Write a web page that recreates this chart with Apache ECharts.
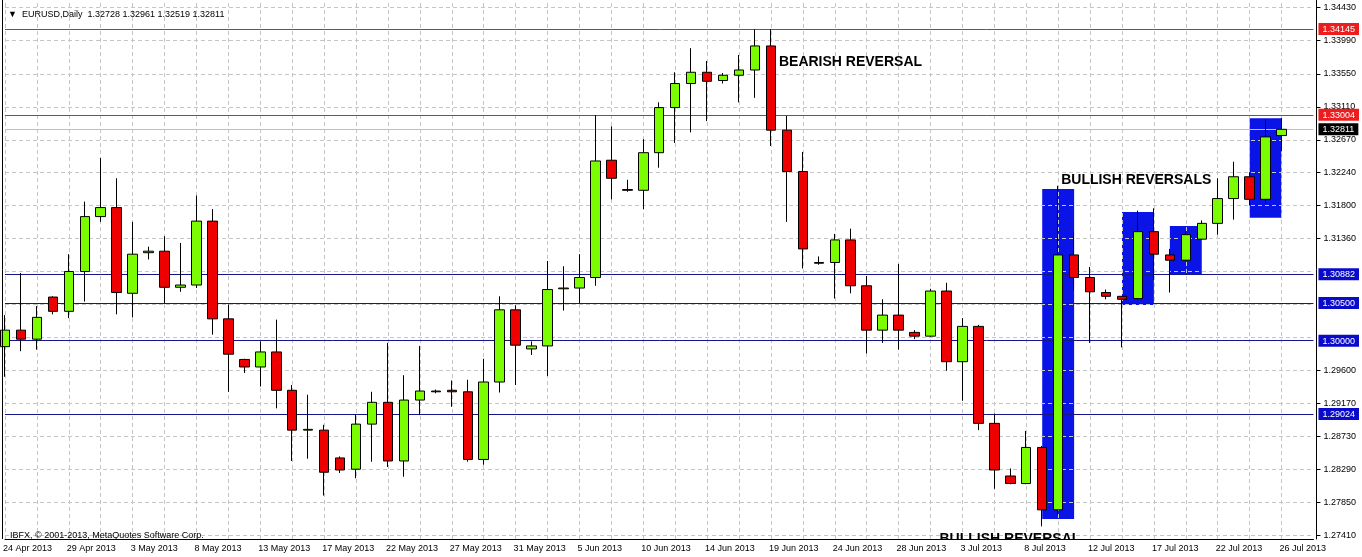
<!DOCTYPE html>
<html><head><meta charset="utf-8">
<script src="https://cdn.jsdelivr.net/npm/echarts@6/dist/echarts.min.js"></script>
<style>html,body{margin:0;padding:0;background:#fff}#c{width:1362px;height:557px}</style>
</head><body><div id="c"></div>
<script>
const dates = ['24 Apr 2013','25 Apr 2013','26 Apr 2013','28 Apr 2013','29 Apr 2013','30 Apr 2013','1 May 2013','2 May 2013','3 May 2013','5 May 2013','6 May 2013','7 May 2013','8 May 2013','9 May 2013','10 May 2013','12 May 2013','13 May 2013','14 May 2013','15 May 2013','16 May 2013','17 May 2013','19 May 2013','20 May 2013','21 May 2013','22 May 2013','23 May 2013','24 May 2013','26 May 2013','27 May 2013','28 May 2013','29 May 2013','30 May 2013','31 May 2013','2 Jun 2013','3 Jun 2013','4 Jun 2013','5 Jun 2013','6 Jun 2013','7 Jun 2013','9 Jun 2013','10 Jun 2013','11 Jun 2013','12 Jun 2013','13 Jun 2013','14 Jun 2013','16 Jun 2013','17 Jun 2013','18 Jun 2013','19 Jun 2013','20 Jun 2013','21 Jun 2013','23 Jun 2013','24 Jun 2013','25 Jun 2013','26 Jun 2013','27 Jun 2013','28 Jun 2013','30 Jun 2013','1 Jul 2013','2 Jul 2013','3 Jul 2013','4 Jul 2013','5 Jul 2013','7 Jul 2013','8 Jul 2013','9 Jul 2013','10 Jul 2013','11 Jul 2013','12 Jul 2013','14 Jul 2013','15 Jul 2013','16 Jul 2013','17 Jul 2013','18 Jul 2013','19 Jul 2013','21 Jul 2013','22 Jul 2013','23 Jul 2013','24 Jul 2013','25 Jul 2013','26 Jul 2013'];

const opens  = [1.2992,1.3014,1.3002,1.3058,1.3039,1.3092,1.3165,1.3177,1.3063,1.3117,1.3119,1.3071,1.3074,1.3159,1.3029,1.2975,1.2965,1.2985,1.2934,1.2881,1.2881,1.2844,1.2829,1.2889,1.2918,1.2840,1.2921,1.2933,1.2934,1.2932,1.2842,1.2945,1.3041,1.2989,1.2993,1.3069,1.3070,1.3084,1.3240,1.3201,1.3200,1.3250,1.3310,1.3342,1.3357,1.3346,1.3353,1.3360,1.3392,1.3280,1.3225,1.3104,1.3104,1.3134,1.3073,1.3014,1.3034,1.3011,1.3006,1.3066,1.2972,1.3019,1.2890,1.2820,1.2810,1.2858,1.2775,1.3114,1.3084,1.3064,1.3059,1.3056,1.3145,1.3114,1.3107,1.3135,1.3156,1.3189,1.3218,1.3188,1.32728];
const closes = [1.3014,1.3002,1.3031,1.3039,1.3092,1.3165,1.3177,1.3064,1.3115,1.3119,1.3071,1.3074,1.3159,1.3029,1.2982,1.2965,1.2985,1.2934,1.2881,1.2882,1.2825,1.2828,1.2889,1.2918,1.2840,1.2921,1.2933,1.2932,1.2932,1.2842,1.2945,1.3041,1.2994,1.2993,1.3068,1.3070,1.3084,1.3239,1.3216,1.3200,1.3250,1.3310,1.3342,1.3357,1.3345,1.3353,1.3360,1.3392,1.3280,1.3225,1.3122,1.3103,1.3134,1.3073,1.3014,1.3034,1.3014,1.3006,1.3066,1.2972,1.3019,1.2890,1.2828,1.2810,1.2858,1.2775,1.3114,1.3084,1.3065,1.3059,1.3055,1.3145,1.3115,1.3107,1.3141,1.3156,1.3189,1.3218,1.3188,1.3271,1.32811];
const lows   = [1.2952,1.2986,1.2988,1.3035,1.3030,1.3052,1.3158,1.3035,1.3031,1.3108,1.3050,1.3065,1.3070,1.3008,1.2932,1.2957,1.2939,1.2910,1.2840,1.2843,1.2794,1.2824,1.2817,1.2839,1.2832,1.2819,1.2901,1.2930,1.2912,1.2839,1.2835,1.2931,1.2941,1.2981,1.2953,1.3040,1.3050,1.3073,1.3188,1.3198,1.3175,1.3230,1.3263,1.3277,1.3292,1.3342,1.3317,1.3323,1.3259,1.3158,1.3096,1.3101,1.3056,1.3063,1.2983,1.2997,1.2988,1.3002,1.3005,1.2960,1.2920,1.2881,1.2803,1.2809,1.2809,1.2753,1.2769,1.3067,1.2997,1.3055,1.2991,1.3055,1.3081,1.3064,1.3106,1.3134,1.3141,1.3161,1.3180,1.3183,1.32519];
const highs  = [1.3034,1.3090,1.3046,1.3059,1.3115,1.3185,1.3243,1.3216,1.3158,1.3125,1.3139,1.3130,1.3193,1.3175,1.3048,1.2976,1.2999,1.3028,1.2941,1.2928,1.2888,1.2846,1.2902,1.2932,1.2997,1.2954,1.2993,1.2935,1.2947,1.2948,1.2976,1.3059,1.3047,1.2999,1.3106,1.3099,1.3115,1.3300,1.3285,1.3214,1.3268,1.3317,1.3357,1.3389,1.3372,1.3356,1.3380,1.3414,1.34145,1.3299,1.3251,1.3112,1.3142,1.3149,1.3086,1.3055,1.3102,1.3014,1.3069,1.3077,1.3030,1.3021,1.2903,1.2830,1.2880,1.2860,1.3206,1.3145,1.3098,1.3068,1.3059,1.3173,1.3176,1.3122,1.3145,1.3160,1.3216,1.3238,1.3224,1.3294,1.32961];

const gridTicks  = [1.34430,1.33990,1.33550,1.33110,1.32670,1.32240,1.31800,1.31360,1.30920,1.30480,1.30040,1.29600,1.29170,1.28730,1.28290,1.27850,1.27410];
const tickLabels = [1.34430,1.33990,1.33550,1.33110,1.32670,1.32240,1.31800,1.31360,1.29600,1.29170,1.28730,1.28290,1.27850,1.27410];

const redLevels  = [1.34145,1.33004];
const bidLevel   = [1.32811];
const blueLevels = [1.30882,1.30500,1.30000,1.29024];

const boxStartIdx = [65,70,73,78];
const boxEndIdx   = [67,72,75,80];
const boxTop      = [1.32017,1.31711,1.31525,1.32957];
const boxBottom   = [1.27627,1.30474,1.30873,1.31635];

const notes      = ['BEARISH REVERSAL','BULLISH REVERSALS','BULLISH REVERSAL'];
const noteIdx    = [48,66,58];
const notePrice  = [1.33700,1.32130,1.27364];

const yMin = 1.27362, yMax = 1.34531;
const FONT = 'Liberation Sans, Arial, DejaVu Sans, sans-serif';

const cats = dates.concat(['', ' ']);
const candleData = dates.map((d,i)=>[opens[i],closes[i],lows[i],highs[i]]);
const allLevels = redLevels.concat(bidLevel, blueLevels);
function kindOf(v){
  if (redLevels.some(l=>Math.abs(l-v)<1e-6)) return 'r';
  if (bidLevel.some(l=>Math.abs(l-v)<1e-6)) return 'k';
  return 'b';
}
const evenDates = dates.filter((d,i)=>i%2===0);

function levelSeries(name, values, color){
  return {name:name, type:'line', data:[], z:6, silent:true,
    markLine:{silent:true, precision:5, symbol:['none','none'], label:{show:false},
      lineStyle:{color:color, type:'solid', width:1, opacity:1},
      emphasis:{disabled:true},
      data:values.map(v=>({yAxis:v}))}};
}

const chart = echarts.init(document.getElementById('c'), null, {renderer:'canvas'});
chart.setOption({
  animation:false,
  backgroundColor:'#ffffff',
  title:[
    {text:'\u25BC  EURUSD,Daily  1.32728 1.32961 1.32519 1.32811', left:3, top:5,
     textStyle:{fontSize:9, fontWeight:'normal', color:'#000', fontFamily:FONT}},
    {text:'IBFX, \u00A9 2001-2013, MetaQuotes Software Corp.', left:5, top:526,
     textStyle:{fontSize:9, fontWeight:'normal', color:'#000', fontFamily:FONT}}
  ],
  grid:{left:3.3, right:46.7, top:0, bottom:18, containLabel:false},
  xAxis:{type:'category', data:cats, boundaryGap:false, z:60,
    axisLine:{show:true, lineStyle:{color:'#000', width:1}},
    axisTick:{show:false},
    axisLabel:{interval:3, align:'left', margin:5, fontSize:9, color:'#000', fontFamily:FONT, padding:[0,0,0,-2]},
    splitLine:{show:false}},
  yAxis:[
    {type:'value', position:'right', offset:3, min:yMin, max:yMax, z:60,
     axisLine:{show:true, lineStyle:{color:'#000', width:1}},
     axisTick:{show:true, length:4, customValues:tickLabels, lineStyle:{color:'#000'}},
     axisLabel:{customValues:tickLabels, formatter:v=>v.toFixed(5), margin:7, fontSize:9, color:'#000', fontFamily:FONT},
     splitLine:{show:false}},
    {type:'value', position:'right', offset:3, min:yMin, max:yMax, z:61,
     axisLine:{show:false}, axisTick:{show:false}, splitLine:{show:false},
     axisLabel:{customValues:allLevels, margin:2, fontSize:9, fontFamily:FONT,
       formatter:v=>'{'+kindOf(v)+'|'+v.toFixed(5)+'}',
       rich:{
         r:{backgroundColor:'#ee1c1c', color:'#fff', padding:[2,4,1,4], fontSize:9, fontFamily:FONT},
         k:{backgroundColor:'#000000', color:'#fff', padding:[2,4,1,4], fontSize:9, fontFamily:FONT},
         b:{backgroundColor:'#0a0acc', color:'#fff', padding:[2,4,1,4], fontSize:9, fontFamily:FONT}
       }}}
  ],
  series:[
    {name:'boxes', type:'line', data:[], z:1, silent:true,
     markArea:{silent:true, itemStyle:{color:'#0a14e6', opacity:1},
       data:boxStartIdx.map((s,i)=>[{xAxis:dates[s], yAxis:boxTop[i]},{xAxis:dates[boxEndIdx[i]], yAxis:boxBottom[i]}])}},
    {name:'grid', type:'line', data:[], z:2, silent:true,
     markLine:{silent:true, precision:5, symbol:['none','none'], label:{show:false},
       lineStyle:{color:'#c6c6c6', type:[4,3], width:1},
       data:gridTicks.map(v=>({yAxis:v})).concat(evenDates.map(d=>({xAxis:d})))}},
    {name:'EURUSD', type:'candlestick', data:candleData, z:5, barWidth:10, clip:false,
     itemStyle:{color:'#7cfc00', color0:'#ee0000', borderColor:'#000', borderColor0:'#000', borderColorDoji:'#000', borderWidth:1},
     markPoint:{silent:true, symbol:'circle', symbolSize:0,
       data:notes.map((t,i)=>({coord:[dates[noteIdx[i]], notePrice[i]], value:t,
         label:{show:true, position:'right', distance:[8,3,9][i], formatter:t, color:'#000', fontSize:14, fontWeight:'bold', fontFamily:FONT}}))}},
    levelSeries('redLevels', redLevels, '#d42a22'),
    levelSeries('bidLine', bidLevel, '#c0c0c0'),
    levelSeries('blueLevels', blueLevels, '#16168a')
  ],
  graphic:[
    {type:'rect', shape:{x:0, y:539.5, width:1362, height:18}, style:{fill:'#fff'}, z:50, silent:true},
    {type:'line', shape:{x1:2.5, y1:0, x2:2.5, y2:539}, style:{stroke:'#000', lineWidth:1}, z:55, silent:true}
  ]
});
</script></body></html>
